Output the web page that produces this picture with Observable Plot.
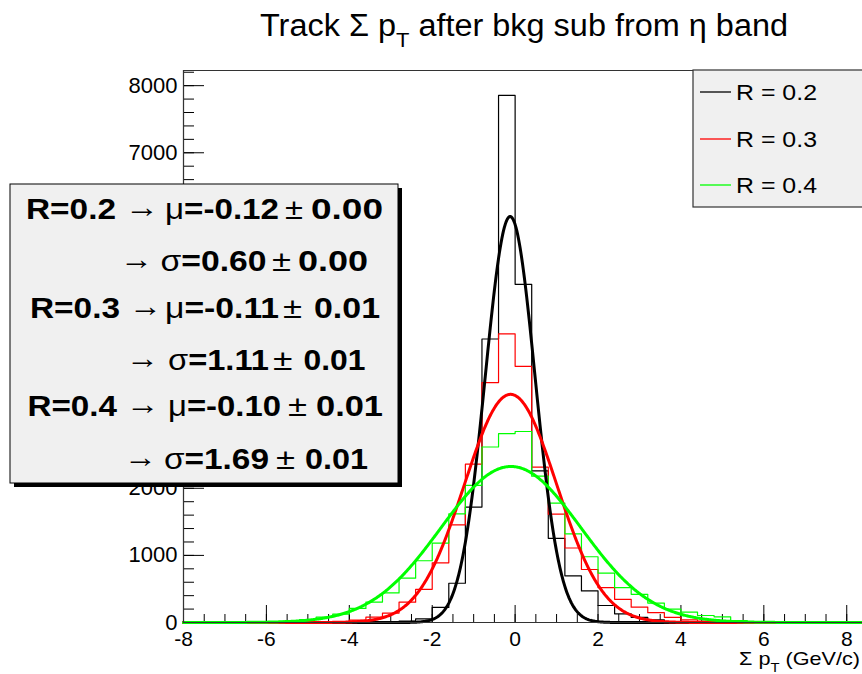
<!DOCTYPE html>
<html><head><meta charset="utf-8">
<script src="https://cdn.jsdelivr.net/npm/d3@7"></script>
<script src="https://cdn.jsdelivr.net/npm/@observablehq/plot@0.6"></script>
<style>
body{margin:0;background:#fff;}
#chart{position:relative;width:862px;height:674px;overflow:hidden;}
</style>
</head><body><div id="chart"></div>
<script>
// ---- data ----
const binLow = [-8.0,-7.6,-7.2,-6.8,-6.4,-6.0,-5.6,-5.2,-4.8,-4.4,-4.0,-3.6,-3.2,-2.8,-2.4,-2.0,-1.6,-1.2,-0.8,-0.4,
                 0.0, 0.4, 0.8, 1.2, 1.6, 2.0, 2.4, 2.8, 3.2, 3.6, 4.0, 4.4, 4.8, 5.2, 5.6, 6.0, 6.4, 6.8, 7.2, 7.6];
const binWidth = 0.4;
const r02 = [0,0,0,0,0,0,0,0,0,0,0,3,8,20,55,225,585,1720,4225,7855,
             5040,2260,1255,695,470,253,129,77,40,15,6,2,0,0,0,0,0,0,0,0];
const r03 = [0,0,0,0,0,0,0,0,5,15,35,80,140,303,495,890,1455,2360,3575,4302,
             3818,2316,1615,1110,790,520,345,228,147,77,38,20,8,3,0,0,0,0,0,0];
const r04 = [0,0,0,0,0,5,20,45,80,125,210,305,440,660,920,1182,1620,2042,2615,2815,
             2846,2180,1778,1322,980,735,520,420,290,200,154,104,85,30,15,5,0,0,0,0];
const seriesNames = ["R = 0.2", "R = 0.3", "R = 0.4"];
const seriesKeys = ["R=0.2", "R=0.3", "R=0.4"];
const seriesColors = ["#000000", "#ff0000", "#00ff00"];
const fitMu = [-0.12, -0.11, -0.10];
const fitMuErr = [0.00, 0.01, 0.01];
const fitSigma = [0.60, 1.11, 1.69];
const fitSigmaErr = [0.00, 0.01, 0.01];
const fitAmp = [6050, 3400, 2325];
const xTicks = [-8, -6, -4, -2, 0, 2, 4, 6, 8];
const yTicks = [0, 1000, 2000, 3000, 4000, 5000, 6000, 7000, 8000];
// labels 3000-6000 sit under the fit-result box in the reference, so only these are drawn
const yTickLabels = [0, 1000, 2000, 7000, 8000];
const titleParts = ["Track \u03A3 p", "T", " after bkg sub from \u03B7 band"];
const xLabelParts = ["\u03A3 p", "T", " (GeV/c)"];

// ---- build tables ----
const allVals = [r02, r03, r04];
const steps = [];
allVals.forEach((vals, s) => {
  vals.forEach((v, i) => steps.push({series: s, x: binLow[i], y: v}));
  steps.push({series: s, x: binLow[binLow.length - 1] + binWidth, y: vals[vals.length - 1]});
});
const xMin = -8, xMax = 8.38;
const fitPts = [];
fitMu.forEach((mu, s) => {
  for (let x = xMin; x <= xMax + 1e-9; x += 0.02) {
    fitPts.push({series: s, x, y: fitAmp[s] * Math.exp(-0.5 * ((x - mu) / fitSigma[s]) ** 2)});
  }
});
const xMinor = d3.range(-8, 8.4, 0.5);
const yMinor = d3.range(0, 8201, 200);

const W = 862, H = 674, mL = 183, mR = 0, mT = 70, mB = 52;
const frameW = W - mL - mR, frameH = H - mT - mB;
const font = "'Liberation Sans', Arial, Helvetica, sans-serif";

const marks = [];
marks.push(Plot.tickX(xMinor, {x: d => d, insetTop: frameH - 8, stroke: "#000"}));
marks.push(Plot.tickX(xTicks, {x: d => d, insetTop: frameH - 17, stroke: "#000"}));
marks.push(Plot.tickY(yMinor, {y: d => d, insetRight: frameW - 11, stroke: "#000"}));
marks.push(Plot.tickY(yTicks, {y: d => d, insetRight: frameW - 21, stroke: "#000"}));
[0, 1, 2].forEach(s => {
  marks.push(Plot.line(steps.filter(d => d.series === s), {x: "x", y: "y", curve: "step-after", stroke: seriesColors[s], strokeWidth: 1.2}));
});
[0, 1, 2].forEach(s => {
  marks.push(Plot.line(fitPts.filter(d => d.series === s), {x: "x", y: "y", stroke: seriesColors[s], strokeWidth: 3}));
});
marks.push(Plot.axisX({ticks: xTicks, tickSize: 0, tickPadding: 9, fontSize: 21, label: null, tickFormat: d => String(d)}));
marks.push(Plot.axisY({ticks: yTickLabels, tickSize: 0, tickPadding: 6, fontSize: 22, label: null, tickFormat: d => String(d)}));
marks.push(Plot.ruleX([xMin], {stroke: "#000", strokeWidth: 1.2}));
marks.push(Plot.ruleY([0], {stroke: "#000", strokeWidth: 1.2}));
marks.push(Plot.frame({stroke: "#333"}));

const plot = Plot.plot({
  width: W, height: H,
  marginLeft: mL, marginRight: mR, marginTop: mT, marginBottom: mB,
  style: {fontFamily: font, color: "#000", background: "#fff", overflow: "visible"},
  x: {domain: [xMin, xMax]},
  y: {domain: [0, 8226]},
  marks
});
document.getElementById("chart").appendChild(plot);

// ---- annotations ----
const svg = d3.select(plot);
const g = svg.append("g").attr("text-anchor", "start").attr("font-family", font).attr("fill", "#000");
// Title
const t = g.append("text").attr("x", 260).attr("y", 36).attr("font-size", 31)
  .attr("textLength", 528).attr("lengthAdjust", "spacingAndGlyphs");
t.append("tspan").text(titleParts[0]);
t.append("tspan").attr("dy", 11).attr("font-size", 21).text(titleParts[1]);
t.append("tspan").attr("dy", -11).text(titleParts[2]);

// X label
const xl = g.append("text").attr("x", 739).attr("y", 665).attr("font-size", 19)
  .attr("textLength", 121).attr("lengthAdjust", "spacingAndGlyphs");
xl.append("tspan").text(xLabelParts[0]);
xl.append("tspan").attr("dy", 7).attr("font-size", 13).text(xLabelParts[1]);
xl.append("tspan").attr("dy", -7).text(xLabelParts[2]);

// Legend
g.append("rect").attr("x", 693).attr("y", 70).attr("width", 200).attr("height", 137).attr("fill", "#f0f0f0").attr("stroke", "#333").attr("stroke-width", 1.2);
const legY = [92, 139, 185];
seriesNames.forEach((name, i) => {
  g.append("line").attr("x1", 700).attr("x2", 731).attr("y1", legY[i]).attr("y2", legY[i]).attr("stroke", seriesColors[i]).attr("stroke-width", 1.3);
  g.append("text").attr("x", 736).attr("y", legY[i] + 8).attr("font-size", 22)
    .attr("textLength", 81).attr("lengthAdjust", "spacingAndGlyphs").text(name);
});

// Fit-result box
g.append("rect").attr("x", 14).attr("y", 188).attr("width", 388).attr("height", 299).attr("fill", "#000");
g.append("rect").attr("x", 10).attr("y", 184).attr("width", 388).attr("height", 299).attr("fill", "#f0f0f0").attr("stroke", "#000").attr("stroke-width", 1);
// per line: [x, width] of each piece: key, arrow, symbol=value, ±, error
const muLine = [
  [[26, 90], [125, 34], [165, 114], [285, 18], [311, 72]],
  [[30, 90], [129, 33], [165, 114], [283, 19], [314, 66]],
  [[27.5, 89.5], [126, 33.5], [168, 113], [288, 19], [316, 67]]
];
const sigLine = [
  [[120, 33], [160.5, 106], [272, 19], [298, 70]],
  [[126, 33], [168, 101], [273, 19.5], [303.5, 62]],
  [[124, 33], [164, 105], [276, 19], [305, 63]]
];
const muBase = [219, 318, 416], sigBase = [271, 370, 469];
function piece(x, y, w, txt, bold) {
  g.append("text").attr("x", x).attr("y", y).attr("font-size", 30)
    .attr("font-weight", bold ? "bold" : "normal")
    .attr("textLength", w).attr("lengthAdjust", "spacingAndGlyphs").text(txt);
}
seriesKeys.forEach((key, i) => {
  const m = muLine[i], y1 = muBase[i];
  piece(m[0][0], y1, m[0][1], key, true);
  piece(m[1][0], y1 - 2, m[1][1], "\u2192", false);
  g.append("text").attr("x", m[2][0]).attr("y", y1).attr("font-size", 30).attr("font-weight", "bold")
    .attr("textLength", m[2][1]).attr("lengthAdjust", "spacingAndGlyphs")
    .call(s => { s.append("tspan").attr("font-weight", "normal").text("\u03BC"); s.append("tspan").text("=" + fitMu[i].toFixed(2)); });
  piece(m[3][0], y1, m[3][1], "\u00B1", false);
  piece(m[4][0], y1, m[4][1], fitMuErr[i].toFixed(2), true);
  const q = sigLine[i], y2 = sigBase[i];
  piece(q[0][0], y2 - 2, q[0][1], "\u2192", false);
  g.append("text").attr("x", q[1][0]).attr("y", y2).attr("font-size", 30).attr("font-weight", "bold")
    .attr("textLength", q[1][1]).attr("lengthAdjust", "spacingAndGlyphs")
    .call(s => { s.append("tspan").attr("font-weight", "normal").text("\u03C3"); s.append("tspan").text("=" + fitSigma[i].toFixed(2)); });
  piece(q[2][0], y2, q[2][1], "\u00B1", false);
  piece(q[3][0], y2, q[3][1], fitSigmaErr[i].toFixed(2), true);
});
</script>
</body></html>
